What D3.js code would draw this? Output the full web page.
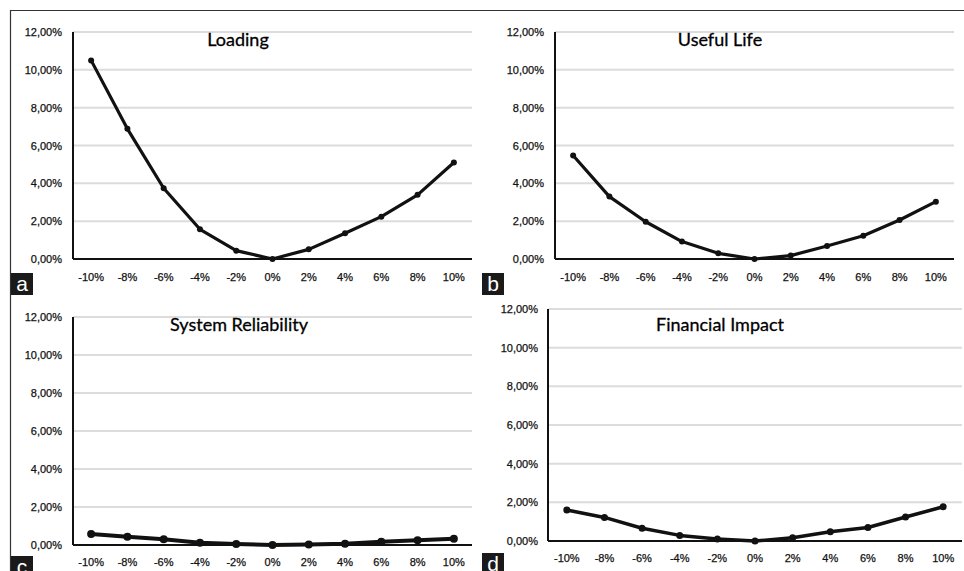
<!DOCTYPE html>
<html>
<head>
<meta charset="utf-8">
<script src="https://cdn.jsdelivr.net/npm/d3@7"></script>
<style>
  body { margin: 0; background: #fff; }
  svg { display: block; }
  .tick-label { font-family: "Liberation Sans", Arial, sans-serif; font-size: 11px; fill: #111; stroke: #111; stroke-width: 0.25px; }
  .title { font-family: Lato, "Open Sans", sans-serif; font-size: 18px; fill: #000; stroke: #000; stroke-width: 0.3px; }
  .tag { font-family: "Liberation Sans", Arial, sans-serif; font-size: 21px; fill: #fff; }
</style>
</head>
<body>
<div id="chart"></div>
<script>
// data
var categories = ["-10%", "-8%", "-6%", "-4%", "-2%", "0%", "2%", "4%", "6%", "8%", "10%"];
var yTicks = [0, 2, 4, 6, 8, 10, 12];
var loading = [10.5, 6.88, 3.74, 1.57, 0.44, 0, 0.51, 1.36, 2.24, 3.39, 5.1];
var usefulLife = [5.47, 3.3, 1.97, 0.92, 0.3, 0, 0.18, 0.69, 1.23, 2.06, 3.03];
var systemReliability = [0.58, 0.44, 0.3, 0.12, 0.05, 0, 0.03, 0.07, 0.17, 0.25, 0.33];
var financialImpact = [1.6, 1.22, 0.66, 0.29, 0.1, 0, 0.17, 0.48, 0.7, 1.24, 1.77];

var width = 964, height = 571;
var svg = d3.select("#chart").append("svg")
  .attr("width", width)
  .attr("height", height);

// outer frame (top and left only)
svg.append("line").attr("x1", 10).attr("x2", width).attr("y1", 10.5).attr("y2", 10.5)
  .attr("stroke", "#333").attr("stroke-width", 1.2);
svg.append("line").attr("x1", 10.5).attr("x2", 10.5).attr("y1", 10).attr("y2", height)
  .attr("stroke", "#333").attr("stroke-width", 1.2);

var panels = [
  { title: "Loading", values: loading, tag: "a",
    left: 73, right: 472, top: 32, bottom: 259, titleX: 238, titleY: 46,
    labelRight: 62, xLabelY: 281, tagX: 11, tagY: 273, lw: 3.2, r: 3 },
  { title: "Useful Life", values: usefulLife, tag: "b",
    left: 555, right: 954, top: 32, bottom: 259, titleX: 720, titleY: 46,
    labelRight: 544, xLabelY: 281, tagX: 482, tagY: 273, lw: 3.2, r: 3 },
  { title: "System Reliability", values: systemReliability, tag: "c",
    left: 73, right: 472, top: 317, bottom: 545, titleX: 239, titleY: 331,
    labelRight: 62, xLabelY: 566, tagX: 11, tagY: 556, lw: 4, r: 4 },
  { title: "Financial Impact", values: financialImpact, tag: "d",
    left: 548, right: 962, top: 309, bottom: 541, titleX: 720, titleY: 331,
    labelRight: 538, xLabelY: 562, tagX: 482, tagY: 553, lw: 3.5, r: 3.5 }
];

panels.forEach(function (p) {
  var g = svg.append("g");
  var x = d3.scaleBand().domain(categories).range([p.left, p.right]);
  var y = d3.scaleLinear().domain([0, 12]).range([p.bottom, p.top]);

  // gridlines
  g.selectAll(".grid").data(yTicks.filter(function (d) { return d > 0; }))
    .enter().append("line")
    .attr("x1", p.left).attr("x2", p.right)
    .attr("y1", function (d) { return y(d); }).attr("y2", function (d) { return y(d); })
    .attr("stroke", "#dcdcdc").attr("stroke-width", 2);

  // y labels
  g.selectAll(".ylab").data(yTicks).enter().append("text")
    .attr("class", "tick-label")
    .attr("x", p.labelRight)
    .attr("y", function (d) { return y(d) + 4; })
    .attr("text-anchor", "end")
    .text(function (d) { return d3.format(".2f")(d).replace(".", ",") + "%"; });

  // x labels
  g.selectAll(".xlab").data(categories).enter().append("text")
    .attr("class", "tick-label")
    .attr("x", function (d) { return x(d) + x.bandwidth() / 2; })
    .attr("y", p.xLabelY)
    .attr("text-anchor", "middle")
    .text(function (d) { return d; });

  // axes lines
  g.append("line").attr("x1", p.left).attr("x2", p.left).attr("y1", p.top).attr("y2", p.bottom)
    .attr("stroke", "#111").attr("stroke-width", 2);
  g.append("line").attr("x1", p.left).attr("x2", p.right).attr("y1", p.bottom).attr("y2", p.bottom)
    .attr("stroke", "#111").attr("stroke-width", 2);

  // series
  var line = d3.line()
    .x(function (d, i) { return x(categories[i]) + x.bandwidth() / 2; })
    .y(function (d) { return y(d); });
  g.append("path").datum(p.values)
    .attr("d", line)
    .attr("fill", "none")
    .attr("stroke", "#111")
    .attr("stroke-width", p.lw)
    .attr("stroke-linejoin", "round");
  g.selectAll(".dot").data(p.values).enter().append("circle")
    .attr("cx", function (d, i) { return x(categories[i]) + x.bandwidth() / 2; })
    .attr("cy", function (d) { return y(d); })
    .attr("r", p.r)
    .attr("fill", "#111");

  // title
  g.append("text").attr("class", "title")
    .attr("x", p.titleX).attr("y", p.titleY)
    .attr("text-anchor", "middle")
    .text(p.title);

  // panel tag
  g.append("rect").attr("x", p.tagX).attr("y", p.tagY).attr("width", 22).attr("height", 22)
    .attr("fill", "#1a1a1a");
  g.append("text").attr("class", "tag")
    .attr("x", p.tagX + 11).attr("y", p.tagY + 18)
    .attr("text-anchor", "middle")
    .text(p.tag);
});
</script>
</body>
</html>
